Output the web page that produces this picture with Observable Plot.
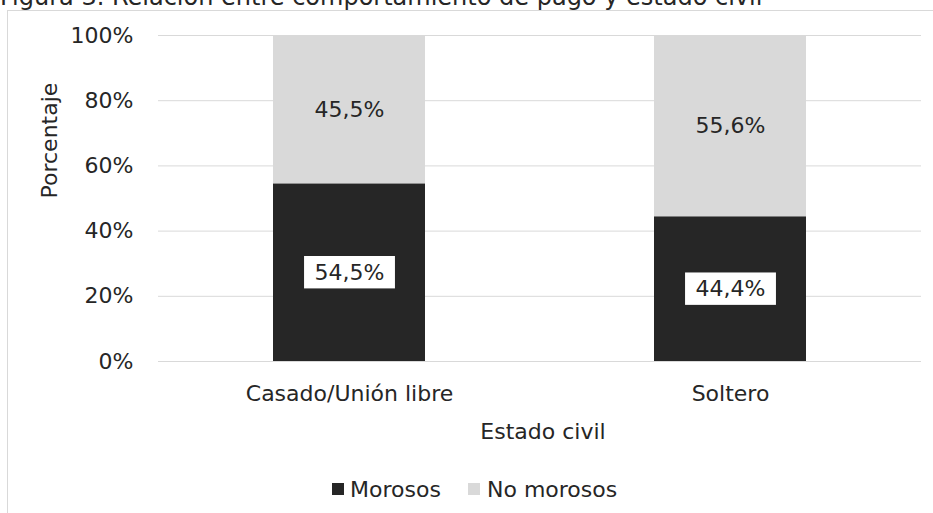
<!DOCTYPE html>
<html>
<head>
<meta charset="utf-8">
<script src="https://cdn.jsdelivr.net/npm/d3@7"></script>
<script src="https://cdn.jsdelivr.net/npm/@observablehq/plot@0.6"></script>
<style>
  body { margin: 0; background: #fff; }
  #wrap { position: relative; width: 933px; height: 513px; overflow: hidden;
          font-family: "DejaVu Sans", Verdana, sans-serif; color: #262626; }
  #border { position: absolute; left: 7px; top: 10px; width: 960px; height: 540px;
            border: 1px solid #d9d9d9; box-sizing: border-box; }
  #title { position: absolute; left: 0; top: -15px; font-size: 24px; line-height: 24px;
           white-space: nowrap; }
  #chart { position: absolute; left: 0; top: 0; }
  .leg { position: absolute; top: 479px; font-size: 22px; line-height: 22px; white-space: nowrap; }
  .sw { position: absolute; top: 483px; width: 12px; height: 12px; }
</style>
</head>
<body>
<div id="wrap">
  <div id="border"></div>
  <div id="title"></div>
  <div id="chart"></div>
  <div id="legend"></div>
</div>
<script>
const titleText = "Figura 3. Relación entre comportamiento de pago y estado civil";
const categories = ["Casado/Unión libre", "Soltero"];
const series = ["Morosos", "No morosos"];
const morosos = [54.5, 44.4];
const noMorosos = [45.5, 55.6];
const colors = ["#262626", "#d9d9d9"];
const yTicks = [0, 20, 40, 60, 80, 100];
const xTitle = "Estado civil";
const yTitle = "Porcentaje";

const data = categories.flatMap((c, i) => [
  {cat: c, serie: series[0], value: morosos[i]},
  {cat: c, serie: series[1], value: noMorosos[i]}
]);
const fmt = v => v.toFixed(1).replace(".", ",") + "%";

document.getElementById("title").textContent = titleText;

const chart = Plot.plot({
  width: 933, height: 513,
  marginLeft: 158, marginRight: 12, marginTop: 35, marginBottom: 152,
  style: {fontFamily: "'DejaVu Sans', Verdana, sans-serif", fontSize: "22px", color: "#262626", background: "transparent", overflow: "visible"},
  x: {domain: categories, paddingInner: 0.6, paddingOuter: 0.3, label: null},
  y: {domain: [0, 100], label: null},
  color: {domain: series, range: colors},
  marks: [
    Plot.gridY(yTicks, {stroke: "#d9d9d9", strokeOpacity: 1, strokeWidth: 1}),
    Plot.barY(data, Plot.stackY({x: "cat", y: "value", fill: "serie", order: series})),
    Plot.axisY(yTicks, {tickSize: 0, tickPadding: 25, tickFormat: d => d + "%", label: null, fill: "#262626"}),
    Plot.axisX({tickSize: 0, tickPadding: 24, label: null, fill: "#262626"}),
    Plot.text(data, Plot.stackY({x: "cat", y: "value", z: "serie", order: series,
      text: d => fmt(d.value), fill: "#262626"})),
    Plot.text([xTitle], {frameAnchor: "bottom", dy: 70, dx: 3, lineAnchor: "middle", fill: "#262626"}),
    Plot.text([yTitle], {frameAnchor: "left", dx: -109, rotate: -90, lineAnchor: "middle", fill: "#262626"})
  ]
});
document.getElementById("chart").appendChild(chart);

// white boxes behind the labels of the dark (Morosos) segments
const darkLabels = new Set(morosos.map(fmt));
const svgNS = "http://www.w3.org/2000/svg";
chart.querySelectorAll("text").forEach(t => {
  if (!darkLabels.has(t.textContent)) return;
  const b = t.getBBox();
  if (!b.width) return;
  const r = document.createElementNS(svgNS, "rect");
  const padX = 10.5, padY = 3.7;
  r.setAttribute("x", b.x - padX);
  r.setAttribute("y", b.y - padY);
  r.setAttribute("width", b.width + 2 * padX);
  r.setAttribute("height", b.height + 2 * padY);
  r.setAttribute("fill", "#ffffff");
  const tr = t.getAttribute("transform");
  if (tr) r.setAttribute("transform", tr);
  t.parentNode.insertBefore(r, t);
});

// legend
const legend = document.getElementById("legend");
const legPos = [{sw: 332, tx: 350}, {sw: 468, tx: 487}];
series.forEach((s, i) => {
  const sw = document.createElement("div");
  sw.className = "sw";
  sw.style.left = legPos[i].sw + "px";
  sw.style.background = colors[i];
  legend.appendChild(sw);
  const tx = document.createElement("div");
  tx.className = "leg";
  tx.style.left = legPos[i].tx + "px";
  tx.textContent = s;
  legend.appendChild(tx);
});
</script>
</body>
</html>
